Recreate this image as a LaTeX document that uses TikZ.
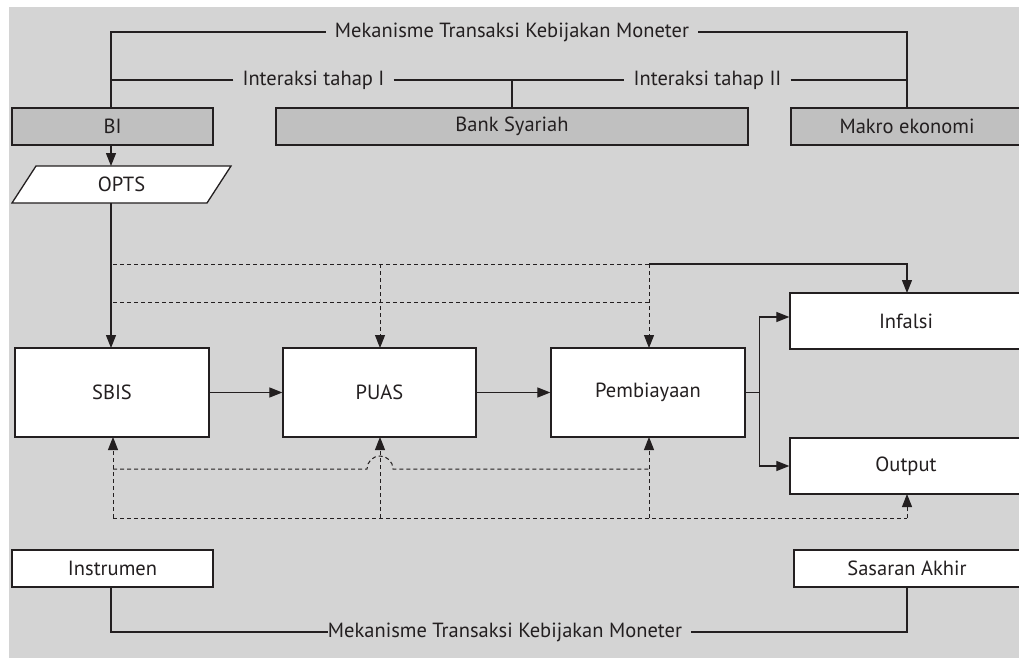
\documentclass[tikz,border=0pt]{standalone}
\usepackage{fontspec}
\setmainfont{PT Sans}
\usetikzlibrary{arrows.meta}
\definecolor{ink}{HTML}{231F20}
\definecolor{panel}{HTML}{D4D4D4}
\definecolor{head}{HTML}{C0C0C0}
\tikzset{
  every node/.style={font=\fontsize{20.5}{24}\selectfont, text=ink},
  base/.style={draw=ink, line width=1.3pt, inner sep=0pt},
  headbox/.style={base, fill=head, minimum height=37pt},
  whitebox/.style={base, fill=white},
  label/.style={inner xsep=9pt, inner ysep=2pt},
  conn/.style={draw=ink, line width=1.2pt},
  arr/.style={conn, -{Triangle[length=13pt,width=10pt]}},
  dsh/.style={conn, line width=1pt, dash pattern=on 4pt off 3pt},
  darr/.style={dsh, -{Triangle[length=13pt,width=10pt]}}
}
\begin{document}
\begin{tikzpicture}[x=1pt, y=-1pt]
  % canvas
  \useasboundingbox (0,0) rectangle (1019,658);
  \fill[panel] (9,7) rectangle (1019,658);

  % header boxes
  \node[headbox, minimum width=201pt] (bi)    at (112.5,126.5) {BI};
  \node[headbox, minimum width=472pt] (bank)  at (512,126.5)   {Bank Syariah};
  \node[headbox, minimum width=232pt] (makro) at (907,126.5)   {Makro ekonomi};

  % header labels and brackets
  \node[label] (mek) at (512,32)   {Mekanisme Transaksi Kebijakan Moneter};
  \node[label] (ia)  at (313.5,80) {Interaksi tahap I};
  \node[label] (ib)  at (707.5,80) {Interaksi tahap II};
  \draw[conn] (111,108) |- (mek.west);
  \draw[conn] (mek.east) -| (makro.north);
  \draw[conn] (ia.west) -- (111,80);
  \draw[conn] (ia.east) -- (ib.west);
  \draw[conn] (ib.east) -- (makro.north |- ib.east);
  \draw[conn] (bank.north) -- (bank.north |- ia.east);

  % OPTS parallelogram
  \path[draw=ink, line width=1.3pt, fill=white]
     (36,166) -- (231,166) -- (207,203) -- (12,203) -- cycle;
  \node[inner sep=0pt] (opts) at (121.5,184.5) {OPTS};
  \draw[arr] (111,145) -- (111,166);

  % main chain
  \node[whitebox, minimum width=194pt, minimum height=89pt] (sbis) at (112,392.5) {SBIS};
  \node[whitebox, minimum width=193pt, minimum height=89pt] (puas) at (379.5,392.5) {PUAS};
  \node[whitebox, minimum width=194pt, minimum height=89pt] (pemb) at (648,392.5) {Pembiayaan};
  \node[whitebox, minimum width=232pt, minimum height=56pt] (infl) at (906,321) {Infalsi};
  \node[whitebox, minimum width=232pt, minimum height=56pt] (outp) at (906,466) {Output};

  \draw[arr] (111,203) -- (111,348);
  \draw[arr] (sbis.east) -- (puas.west);
  \draw[arr] (puas.east) -- (pemb.west);
  \draw[conn] (pemb.east) -- ++(14,0) coordinate (fork);
  \draw[arr] (fork) |- ([yshift=4pt]infl.west);
  \draw[arr] (fork) |- (outp.west);

  % upper dashed links
  \coordinate (u1) at (113,264);
  \coordinate (u2) at (113,302);
  \draw[dsh] (u1) -- (649,264);
  \draw[arr] (649,264) -| (907,293);
  \draw[dsh] (u2) -- (649,302);
  \draw[darr] (380,264) -- (380,348);
  \draw[darr] (649,264) -- (649,348);

  % lower dashed links, hopping over the PUAS feed
  \draw[dsh] (113,469) -- (367,469) arc[start angle=180, end angle=360, radius=13] -- (649,469);
  \draw[dsh] (113,518) -- (907,518);
  \draw[darr] (113,518) -- (113,437);
  \draw[darr] (380,518) -- (380,437);
  \draw[darr] (649,518) -- (649,437);
  \draw[darr] (907,518) -- (907,494);

  % footer
  \node[whitebox, minimum width=201pt, minimum height=37pt] (instr) at (112.5,568.5) {Instrumen};
  \node[whitebox, minimum width=226pt, minimum height=37pt] (sas) at (907,568.5) {Sasaran Akhir};
  \node[inner xsep=0pt, inner ysep=2pt] (mek2) at (505,632) {Mekanisme Transaksi Kebijakan Moneter};
  \draw[conn] (111,587) |- (mek2.west);
  \draw[conn] ([xshift=9pt]mek2.east) -| (sas.south);
\end{tikzpicture}
\end{document}
